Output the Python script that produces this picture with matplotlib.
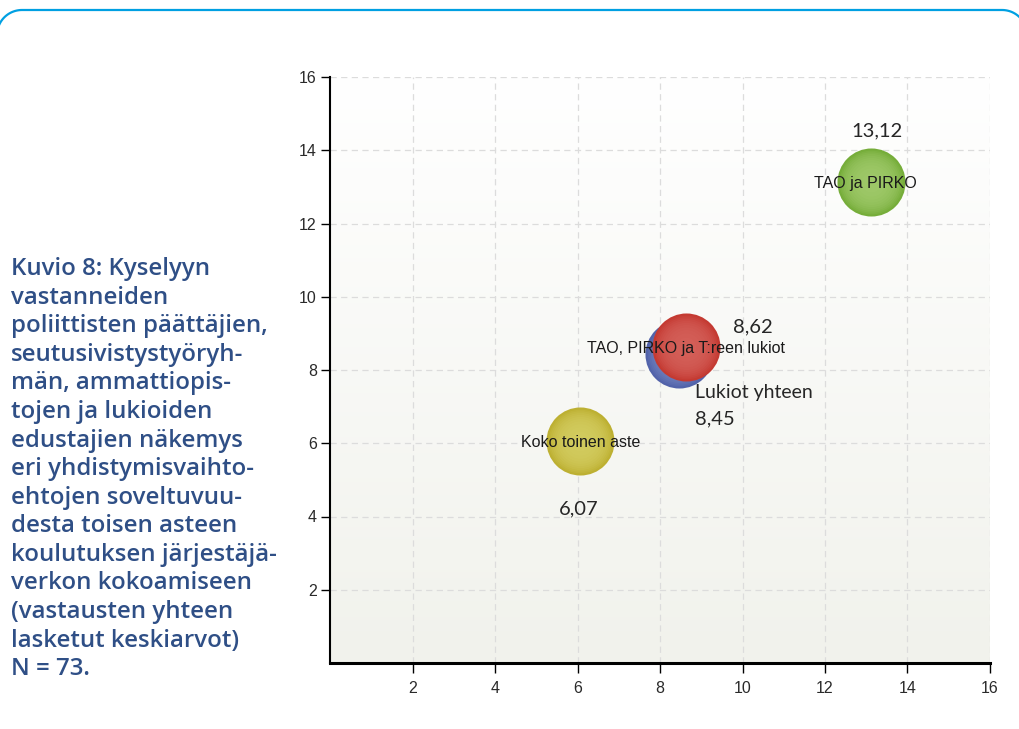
import numpy as np
import matplotlib
matplotlib.use('Agg')
import matplotlib.pyplot as plt
from matplotlib.lines import Line2D

# data
names = ['Koko toinen aste', 'Lukiot yhteen', 'TAO, PIRKO ja T:reen lukiot', 'TAO ja PIRKO']
xvals = [6.07, 8.45, 8.62, 13.12]
yvals = [6.07, 8.45, 8.62, 13.12]
value_labels = ['6,07', '8,45', '8,62', '13,12']
colors = ['#bdb032', '#5263aa', '#c43a32', '#76ad3a']
light = ['#dcd770', '#8595cc', '#dc6e68', '#aed47a']
ticks = [2, 4, 6, 8, 10, 12, 14, 16]

caption = ("Kuvio 8: Kyselyyn\nvastanneiden\npoliittisten päättäjien,\n"
           "seutusivistystyöryh-\nmän, ammattiopis-\ntojen ja lukioiden\n"
           "edustajien näkemys\neri yhdistymisvaihto-\nehtojen soveltuvuu-\n"
           "desta toisen asteen\nkoulutuksen järjestäjä-\nverkon kokoamiseen\n"
           "(vastausten yhteen\nlasketut keskiarvot)\nN = 73.")

W, H = 1019, 729
fig = plt.figure(figsize=(W / 100, H / 100), dpi=100)
fig.patch.set_facecolor('white')

# blue frame line at the top with rounded corners (pixel coords)
r = 25
a1 = np.linspace(np.pi, np.pi / 2, 30)
a2 = np.linspace(np.pi / 2, 0, 30)
fx = np.concatenate([22 + r * np.cos(a1), 1002 + r * np.cos(a2)])
fy = np.concatenate([35 - r * np.sin(a1), 35 - r * np.sin(a2)])
fig.lines.append(Line2D(fx / W, 1 - fy / H, transform=fig.transFigure,
                        color='#00a0e2', linewidth=1.6))

fig.text(11 / W, 1 - 257 / H, caption, ha='left', va='top', fontsize=17.3,
         family='Open Sans', weight='semibold', color='#2f4f86', linespacing=1.255)

ax = fig.add_axes([330 / W, 1 - 663 / H, 660 / W, 586 / H])
ax.set_xlim(0, 16)
ax.set_ylim(0, 16)

# background gradient
grad = np.linspace(0, 1, 256).reshape(-1, 1)
cmap = matplotlib.colors.LinearSegmentedColormap.from_list('bg', ['#f1f2ec', '#ffffff'])
ax.imshow(grad, extent=[0, 16, 0, 16], origin='lower', aspect='auto',
          cmap=cmap, zorder=0)

ax.set_axisbelow(True)
ax.grid(True, color='#dcdcdc', linestyle=(0, (5, 3.5)), linewidth=0.9)

# bubbles: base circle plus soft lighter centre
for i in range(len(xvals)):
    ax.scatter(xvals[i], yvals[i], s=2400, color=colors[i], zorder=3 + i, linewidths=0)
    for s in np.linspace(2100, 200, 10):
        ax.scatter(xvals[i], yvals[i], s=s, color=light[i], alpha=0.13,
                   zorder=3 + i, linewidths=0)

# category labels on bubbles
for i in [0, 2, 3]:
    ax.annotate(names[i], (xvals[i], yvals[i]), xytext=(-4 if i == 3 else 0, -1),
                textcoords='offset points', ha='center', va='center',
                fontsize=11.5, family='Liberation Sans', color='#1a1a1a', zorder=10)
ax.annotate(names[1], (xvals[1], yvals[1]), xytext=(12, -28),
            textcoords='offset points', ha='left', va='center',
            fontsize=14, family='Lato', color='#262626', zorder=10)

vofs = [(-1, -49, 'center'), (12, -47, 'left'), (34, 15, 'left'), (4, 37, 'center')]
for i in range(len(xvals)):
    dx, dy, ha = vofs[i]
    ax.annotate(value_labels[i], (xvals[i], yvals[i]), xytext=(dx, dy),
                textcoords='offset points', ha=ha, va='center',
                fontsize=14.5, family='Lato', color='#262626', zorder=10)

ax.set_xticks(ticks)
ax.set_yticks(ticks)
ax.tick_params(axis='x', direction='out', length=7, width=1, pad=6,
               labelsize=11.5, labelcolor='#2a2a2a')
ax.tick_params(axis='y', direction='out', length=6.5, width=1, pad=3,
               labelsize=11.5, labelcolor='#2a2a2a')
for lab in ax.get_xticklabels() + ax.get_yticklabels():
    lab.set_family('Liberation Sans')

ax.spines['top'].set_visible(False)
ax.spines['right'].set_visible(False)
ax.spines['left'].set_linewidth(1.5)
ax.spines['bottom'].set_linewidth(2.2)

plt.savefig('out.png', dpi=100)
